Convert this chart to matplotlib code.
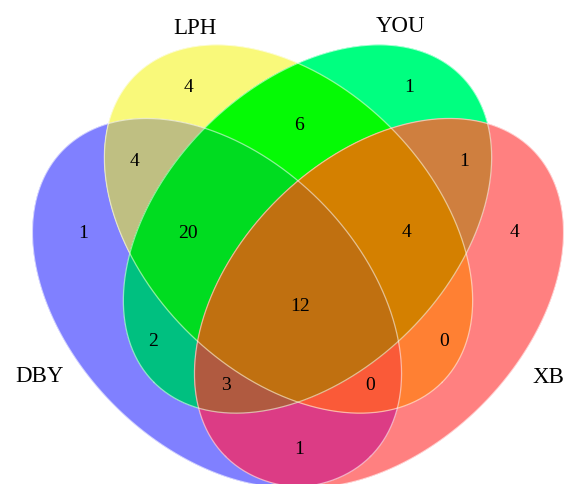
import numpy as np
import matplotlib
matplotlib.use("Agg")
from matplotlib import pyplot as plt

SETS = ["DBY", "LPH", "YOU", "XB"]

# exclusive counts; each region is named by the sets it belongs to
REGIONS = ["DBY", "LPH", "YOU", "XB",
           "DBY LPH", "DBY YOU", "DBY XB", "LPH YOU", "LPH XB", "YOU XB",
           "DBY LPH YOU", "DBY LPH XB", "DBY YOU XB", "LPH YOU XB",
           "DBY LPH YOU XB"]
COUNTS = [1, 4, 1, 4, 4, 2, 1, 6, 0, 1, 20, 0, 3, 4, 12]

""" ---- layout (pixel-like coords, y down) ---- """
# cx, cy, semi-major, semi-minor, angle (deg)
ELLIPSES = {
    "DBY": (217, 304, 217, 145, 45),
    "LPH": (288.5, 230, 217, 144, 45),
    "YOU": (307.5, 230, 217, 144, 135),
    "XB":  (379, 304, 217, 145, 135),
}
SET_LABEL_POS = {"DBY": (39, 377), "LPH": (195, 29), "YOU": (400, 26), "XB": (548, 378)}
COUNT_POS = {
    "DBY": (83, 234), "LPH": (189, 88), "YOU": (409, 88), "XB": (515, 233),
    "DBY LPH": (135, 162), "DBY YOU": (153, 342), "DBY XB": (299, 450),
    "LPH YOU": (299, 125), "LPH XB": (444, 342), "YOU XB": (464, 162),
    "DBY LPH YOU": (188, 234), "DBY LPH XB": (370, 386), "DBY YOU XB": (226, 386),
    "LPH YOU XB": (407, 233), "DBY LPH YOU XB": (300, 307),
}
REGION_COLORS = {
    "DBY": "#8080FF", "LPH": "#F9F97A", "YOU": "#00FF80", "XB": "#FF8080",
    "DBY LPH": "#BFBF82", "DBY YOU": "#00C080", "DBY XB": "#DC3C85",
    "LPH YOU": "#05FA05", "LPH XB": "#FF8033", "YOU XB": "#CF7F3F",
    "DBY LPH YOU": "#00DC20", "DBY LPH XB": "#FA5A38", "DBY YOU XB": "#B05A40",
    "LPH YOU XB": "#D48000", "DBY LPH YOU XB": "#C07010",
}


def ellipse_poly(cx, cy, a, b, ang, n=500):
    t = np.linspace(0, 2 * np.pi, n, endpoint=False)
    th = np.deg2rad(ang)
    x = cx + a * np.cos(t) * np.cos(th) - b * np.sin(t) * np.sin(th)
    y = cy + a * np.cos(t) * np.sin(th) + b * np.sin(t) * np.cos(th)
    return np.column_stack([x, y])


def clip_convex(poly, clipper):
    # Sutherland-Hodgman, clipper is convex and counter-clockwise
    out = poly
    for i in range(len(clipper)):
        if len(out) == 0:
            break
        a = clipper[i]
        b = clipper[(i + 1) % len(clipper)]
        s = (b[0] - a[0]) * (out[:, 1] - a[1]) - (b[1] - a[1]) * (out[:, 0] - a[0])
        inside = s >= 0
        if inside.all():
            continue
        new = []
        m = len(out)
        for k in range(m):
            j = (k + 1) % m
            if inside[k]:
                new.append(out[k])
            if inside[k] != inside[j]:
                tt = s[k] / (s[k] - s[j])
                new.append(out[k] + tt * (out[j] - out[k]))
        out = np.array(new) if new else out[:0]
    return out


polys = {name: ellipse_poly(*ELLIPSES[name]) for name in SETS}

fig = plt.figure(figsize=(5.64, 4.85), dpi=100)
ax = fig.add_axes([0, 0, 1, 1])
ax.set_xlim(0, 564)
ax.set_ylim(485, 0)
ax.axis("off")

# paint intersections from smallest to largest set count,
# so each point ends with the colour of its exact region
for reg in sorted(REGIONS, key=lambda r: len(r.split())):
    members = reg.split()
    p = polys[members[0]]
    for other in members[1:]:
        p = clip_convex(p, polys[other])
    if len(p) > 2:
        ax.fill(p[:, 0], p[:, 1], color=REGION_COLORS[reg], lw=0.3,
                ec=REGION_COLORS[reg], zorder=len(members))

for name in SETS:
    p = polys[name]
    ax.plot(np.append(p[:, 0], p[0, 0]), np.append(p[:, 1], p[0, 1]),
            color="white", lw=0.9, alpha=0.55, zorder=6)

for reg, c in zip(REGIONS, COUNTS):
    x, y = COUNT_POS[reg]
    ax.text(x, y, str(c), ha="center", va="center", fontsize=14,
            family="Liberation Serif", zorder=7)

for name in SETS:
    x, y = SET_LABEL_POS[name]
    ax.text(x, y, name, ha="center", va="center", fontsize=16.5,
            family="Liberation Serif", zorder=7)

fig.savefig("out.png", dpi=100)
